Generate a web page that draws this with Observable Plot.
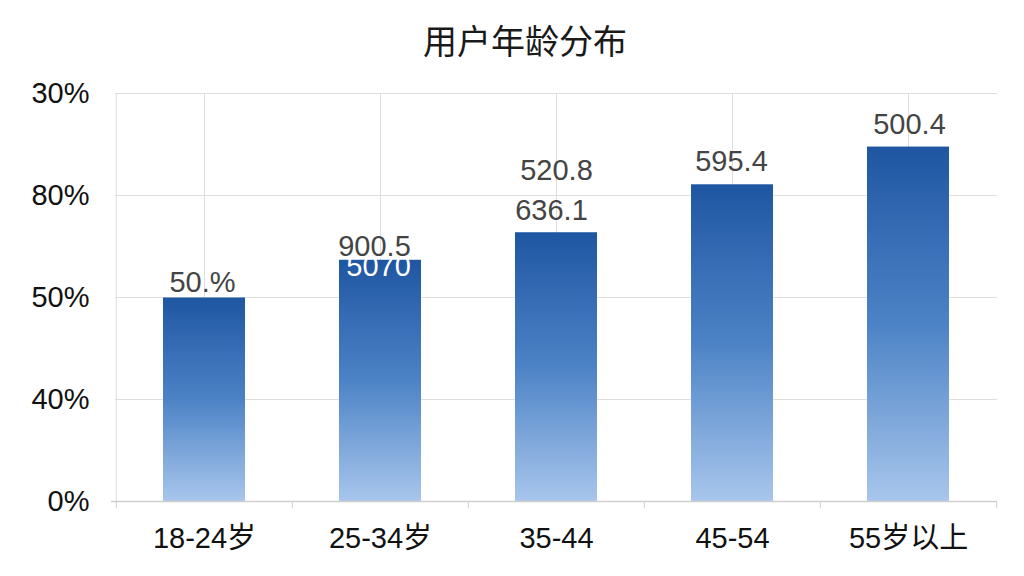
<!DOCTYPE html>
<html>
<head>
<meta charset="utf-8">
<script src="https://cdn.jsdelivr.net/npm/d3@7"></script>
<script src="https://cdn.jsdelivr.net/npm/@observablehq/plot@0.6"></script>
<style>
  html, body { margin: 0; padding: 0; background: #fff; }
  body { width: 1024px; height: 576px; overflow: hidden; font-family: "Liberation Sans", Arial, "Noto Sans CJK SC", sans-serif; }
  #title { height: 70px; box-sizing: border-box; padding-top: 23px; padding-left: 26px; text-align: center; font-family: "Noto Sans CJK SC", sans-serif; font-size: 34px; line-height: 34px; font-weight: 400; color: #1a1a1a; }
</style>
</head>
<body>
<div id="title">用户年龄分布</div>
<div id="chart"></div>
<script>
// ---- data ----
const categories = ["18-24岁", "25-34岁", "35-44", "45-54", "55岁以上"];
const values = [39.9, 47.3, 52.7, 62.1, 69.5];
const yTicks = [0, 20, 40, 60, 80];
const yTickLabels = ["0%", "40%", "50%", "80%", "30%"];
const labelCategories = ["18-24岁", "25-34岁", "25-34岁", "35-44", "35-44", "45-54", "55岁以上"];
const labelTexts = ["50.%", "900.5", "5070", "636.1", "520.8", "595.4", "500.4"];

// ---- styling for labels ----
const labelDy = [-15, -14, 6, -22, -62, -23, -22];
const labelDx = [-2, -6, -2, -5, 0, -1, 1];
const labelFill = ["#444", "#444", "#ffffff", "#444", "#444", "#444", "#444"];

const bars = categories.map((c, i) => ({category: c, value: values[i]}));
const valueOf = Object.fromEntries(bars.map(d => [d.category, d.value]));
const labels = labelTexts.map((t, i) => ({
  category: labelCategories[i], text: t, value: valueOf[labelCategories[i]],
  dy: labelDy[i], dx: labelDx[i], fill: labelFill[i]
}));

const W = 1024, H = 506, mL = 115, mR = 27, mT = 23, mB = 75;
const step = (W - mL - mR) / categories.length;
const grid = "#dedede";

const marks = [
  Plot.ruleY(yTicks.filter(d => d > 0), {y: d => d, stroke: grid, strokeWidth: 1}),
  Plot.ruleX(categories, {x: d => d, stroke: grid, strokeWidth: 1}),
  Plot.ruleX([categories[0]], {x: d => d, dx: -step / 2, stroke: grid, strokeWidth: 1}),
  // category boundary ticks under the axis
  Plot.ruleX(categories, {x: d => d, dx: -step / 2, stroke: "#cfcfcf", insetTop: H - mT - mB, insetBottom: -7}),
  Plot.ruleX([categories[categories.length - 1]], {x: d => d, dx: step / 2, stroke: "#cfcfcf", insetTop: H - mT - mB, insetBottom: -7}),
  Plot.barY(bars, {x: "category", y: "value", fill: "url(#barGrad)"}),
  Plot.ruleY([0], {stroke: "#cfcfcf", strokeWidth: 1.5, insetLeft: -4}),
];
labels.forEach(l => {
  marks.push(Plot.text([l], {x: "category", y: "value", text: "text", dx: l.dx, dy: l.dy,
    fill: l.fill, fontSize: 29, lineAnchor: "middle", textAnchor: "middle"}));
});
marks.push(
  Plot.axisY({ticks: yTicks, tickFormat: d => yTickLabels[yTicks.indexOf(d)], tickSize: 0, tickPadding: 26, fontSize: 29, label: null, fill: "#111"}),
  Plot.axisX({tickSize: 0, tickPadding: 26, fontSize: 29, label: null, fill: "#111"})
);

const chart = Plot.plot({
  width: W, height: H,
  marginLeft: mL, marginRight: mR, marginTop: mT, marginBottom: mB,
  style: {fontFamily: '"Liberation Sans", Arial, "Noto Sans CJK SC", sans-serif', background: "#fff", color: "#111"},
  x: {domain: categories, paddingInner: 0.535, paddingOuter: 0.2675, label: null},
  y: {domain: [0, 80], label: null},
  marks
});

// gradient definition
const NS = "http://www.w3.org/2000/svg";
const defs = document.createElementNS(NS, "defs");
const grad = document.createElementNS(NS, "linearGradient");
grad.setAttribute("id", "barGrad");
grad.setAttribute("x1", "0"); grad.setAttribute("y1", "0");
grad.setAttribute("x2", "0"); grad.setAttribute("y2", "1");
[["0", "#1f56a2"], ["0.5", "#4c83c6"], ["1", "#a8c6ec"]].forEach(([o, c]) => {
  const s = document.createElementNS(NS, "stop");
  s.setAttribute("offset", o); s.setAttribute("stop-color", c);
  grad.appendChild(s);
});
defs.appendChild(grad);
chart.insertBefore(defs, chart.firstChild);

document.getElementById("chart").appendChild(chart);
</script>
</body>
</html>
